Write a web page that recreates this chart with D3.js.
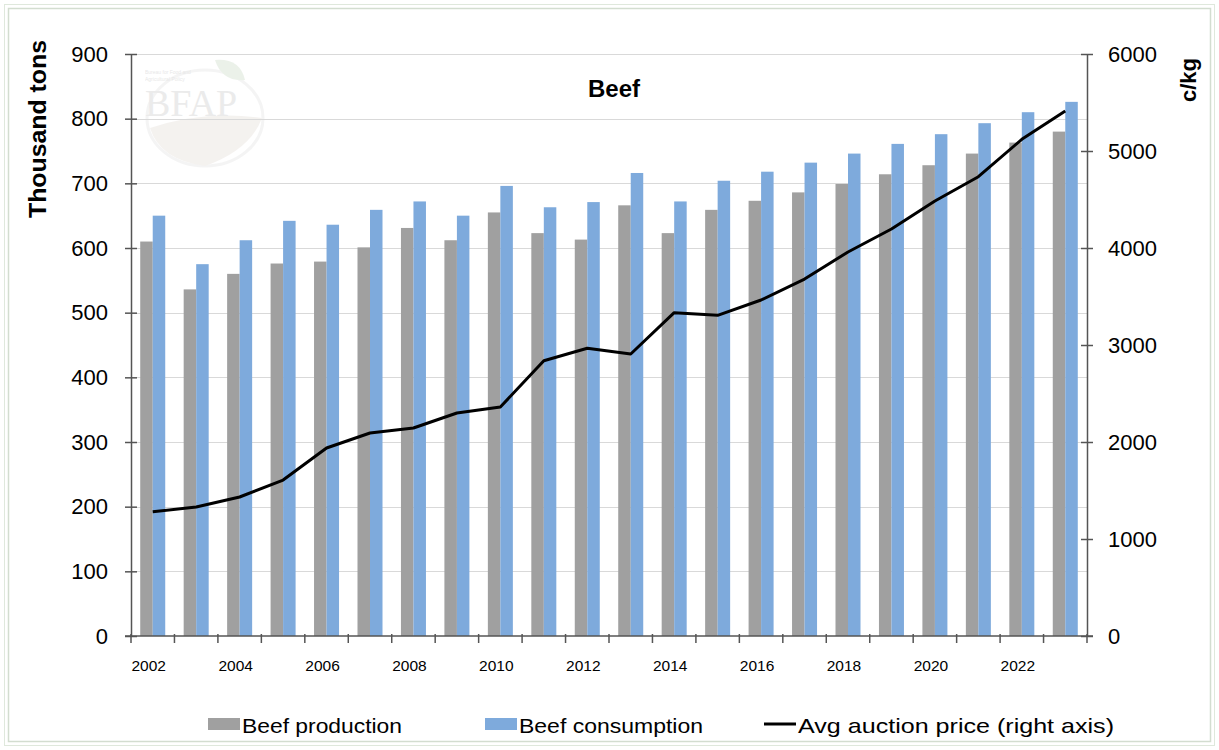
<!DOCTYPE html>
<html><head><meta charset="utf-8">
<script src="https://cdn.jsdelivr.net/npm/d3@7"></script>
<style>body{margin:0;background:#fff;} svg{display:block;font-family:"Liberation Sans",Arial,sans-serif;}</style>
</head><body>
<script>
const years = ["2002","2003","2004","2005","2006","2007","2008","2009","2010","2011","2012","2013","2014","2015","2016","2017","2018","2019","2020","2021","2022","2023"];
const production = [610,536,560,576,579,601,631,612,655,623,613,666,623,659,673,686,699,714,728,746,763,780];
const consumption = [650,575,612,642,636,659,672,650,696,663,671,716,672,704,718,732,746,761,776,793,810,826];
const price = [1280,1330,1433,1608,1938,2093,2144,2299,2361,2838,2966,2907,3333,3306,3464,3680,3959,4196,4485,4735,5120,5412];
const leftTicks = [0,100,200,300,400,500,600,700,800,900];
const rightTicks = [0,1000,2000,3000,4000,5000,6000];
const xLabels = ["2002","2004","2006","2008","2010","2012","2014","2016","2018","2020","2022"];
const seriesNames = ["Beef production","Beef consumption","Avg auction price (right axis)"];
const colors = {prod:"#a0a0a0", cons:"#7eaadc", line:"#000"};

const W=1219,H=750;
const L=131,R=1087,T=54,B=636;
const svg=d3.select("body").append("svg").attr("width",W).attr("height",H);

// frame
svg.append("rect").attr("x",4.5).attr("y",4.5).attr("width",W-9).attr("height",H-9).attr("fill","none").attr("stroke","#dfe8dc").attr("stroke-width",1);
svg.append("rect").attr("x",8.5).attr("y",8.5).attr("width",W-17).attr("height",H-17).attr("fill","none").attr("stroke","#d3ddd0").attr("stroke-width",1.5);

const x=d3.scaleBand().domain(years).range([L,R]).paddingInner(0).paddingOuter(0);
const xs=d3.scaleBand().domain(["prod","cons"]).range([0,x.bandwidth()]).paddingInner(0).paddingOuter(0.738);
const yL=d3.scaleLinear().domain([0,900]).range([B,T]);
const yR=d3.scaleLinear().domain([0,6000]).range([B,T]);

// watermark
const wm=svg.append("g").attr("opacity",0.6);
wm.append("ellipse").attr("cx",205).attr("cy",118).attr("rx",58).attr("ry",48).attr("fill","none").attr("stroke","#eeeeee").attr("stroke-width",3);
wm.append("path").attr("d","M150,128 Q205,110 262,118 Q250,150 205,166 Q160,160 150,128Z").attr("fill","#eeeae6");
wm.append("path").attr("d","M215,60 Q240,58 245,80 Q222,82 215,60Z").attr("fill","#dfe9dc");
wm.append("text").attr("x",145).attr("y",116).attr("font-family","Liberation Serif,serif").attr("font-size",38).attr("fill","#dedede").text("BFAP");
wm.append("text").attr("x",145).attr("y",74).attr("font-size",5).attr("fill","#d8d8d8").text("Bureau for Food and");
wm.append("text").attr("x",145).attr("y",81).attr("font-size",5).attr("fill","#d8d8d8").text("Agricultural Policy");

// gridlines
svg.append("g").selectAll("line").data(leftTicks.filter(d=>d>0)).join("line")
 .attr("x1",L).attr("x2",R).attr("y1",d=>Math.round(yL(d))+0.5).attr("y2",d=>Math.round(yL(d))+0.5)
 .attr("stroke","#d9d9d9").attr("stroke-width",1);

// bars
const g=svg.append("g");
g.selectAll(".p").data(years).join("rect").attr("class","p")
 .attr("x",(d)=>x(d)+xs("prod")).attr("width",xs.bandwidth())
 .attr("y",(d,i)=>yL(production[i])).attr("height",(d,i)=>B-yL(production[i])).attr("fill",colors.prod);
g.selectAll(".c").data(years).join("rect").attr("class","c")
 .attr("x",(d)=>x(d)+xs("cons")).attr("width",xs.bandwidth())
 .attr("y",(d,i)=>yL(consumption[i])).attr("height",(d,i)=>B-yL(consumption[i])).attr("fill",colors.cons);

// axes
const axisColor="#555";
const la=svg.append("g").attr("transform",`translate(${L},0)`).call(d3.axisLeft(yL).tickValues(leftTicks).tickFormat(d3.format("d")).tickSize(6).tickSizeOuter(0));
const ra=svg.append("g").attr("transform",`translate(${R},0)`).call(d3.axisRight(yR).tickValues(rightTicks).tickFormat(d3.format("d")).tickSize(6).tickSizeOuter(0));
[la,ra].forEach(a=>{a.select(".domain").attr("stroke",axisColor).attr("stroke-width",1.5);
 a.selectAll(".tick line").attr("stroke",axisColor).attr("stroke-width",1.5);
 a.selectAll("text").attr("font-size",22).attr("fill","#000").attr("font-family","Liberation Sans,Arial,sans-serif");});
la.selectAll(".tick line").attr("x1",6).attr("x2",-6);
la.selectAll("text").attr("x",-23);
ra.selectAll(".tick line").attr("x1",-6).attr("x2",6);
ra.selectAll("text").attr("x",21);

// bottom axis
const bx=svg.append("g").attr("transform",`translate(0,${B})`);
bx.append("line").attr("x1",L-6).attr("x2",R+6).attr("y1",0).attr("y2",0).attr("stroke",axisColor).attr("stroke-width",1.5);
const bounds=years.map(d=>x(d)).concat([R]);
bx.selectAll(".bt").data(bounds).join("line").attr("class","bt")
 .attr("x1",d=>d).attr("x2",d=>d).attr("y1",-2).attr("y2",7).attr("stroke",axisColor).attr("stroke-width",1.5);
bx.selectAll(".bl").data(xLabels).join("text").attr("class","bl")
 .attr("x",d=>x(d)+x.bandwidth()/2-4).attr("y",35).attr("text-anchor","middle").attr("font-size",15.5).attr("fill","#000").text(d=>d);

// line
const line=d3.line().x((d,i)=>x(years[i])+x.bandwidth()/2).y(d=>yR(d));
svg.append("path").datum(price).attr("d",line).attr("fill","none").attr("stroke",colors.line).attr("stroke-width",3).attr("stroke-linejoin","round");

// titles
svg.append("text").attr("x",614).attr("y",97).attr("text-anchor","middle").attr("font-weight","bold").attr("font-size",24).text("Beef");
svg.append("text").attr("transform","translate(46,129) rotate(-90)").attr("text-anchor","middle").attr("font-weight","bold").attr("font-size",23).attr("textLength",178).attr("lengthAdjust","spacingAndGlyphs").text("Thousand tons");
svg.append("text").attr("transform","translate(1196,80) rotate(-90)").attr("text-anchor","middle").attr("font-weight","bold").attr("font-size",22).text("c/kg");

// legend
const leg=svg.append("g");
const lx=[208,485,764];
const lw=[160,184,316];
leg.append("rect").attr("x",lx[0]).attr("y",718).attr("width",32).attr("height",12).attr("fill",colors.prod);
leg.append("rect").attr("x",lx[1]).attr("y",718).attr("width",32).attr("height",12).attr("fill",colors.cons);
leg.append("line").attr("x1",lx[2]).attr("x2",lx[2]+32).attr("y1",724).attr("y2",724).attr("stroke","#000").attr("stroke-width",3);
leg.selectAll(".lt").data(seriesNames).join("text").attr("class","lt")
 .attr("x",(d,i)=>lx[i]+34).attr("y",733).attr("font-size",21).attr("fill","#000")
 .attr("textLength",(d,i)=>lw[i]).attr("lengthAdjust","spacingAndGlyphs").text(d=>d);
</script>
</body></html>
